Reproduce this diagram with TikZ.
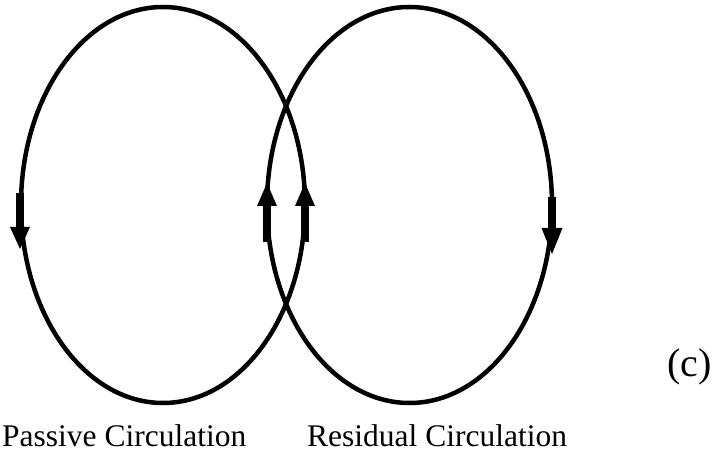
\documentclass[tikz,border=0pt]{standalone}
\usepackage{fontspec}
\setmainfont{Liberation Serif}
\begin{document}
\begin{tikzpicture}[x=1bp,y=-1bp]
\tikzset{
  loopline/.style={line width=4.5bp},
  shaftline/.style={line width=8bp},
  headfill/.style={fill=black},
  lbl/.style={inner sep=0pt, text depth=0pt, anchor=base west, font=\fontsize{31.5bp}{36bp}\selectfont},
  panel/.style={inner sep=0pt, anchor=base west, font=\fontsize{40bp}{44bp}\selectfont}
}
\useasboundingbox (0,0) rectangle (715,454);
% loops
\draw[loopline] (163,205) ellipse [x radius=142, y radius=198];
\draw[loopline] (409.5,205) ellipse [x radius=142.5, y radius=198];
% left arrow (down)
\draw[shaftline] (20,193) -- (20,230);
\fill[headfill] (10,227) -- (30,227) -- (20,249) -- cycle;
% right arrow (down)
\draw[shaftline] (552,197) -- (552,231);
\fill[headfill] (541.5,228) -- (562.5,228) -- (552,254) -- cycle;
% middle arrows (up)
\draw[shaftline] (267,242) -- (267,203);
\fill[headfill] (257,206) -- (277,206) -- (267,183) -- cycle;
\draw[shaftline] (305,242) -- (305,203);
\fill[headfill] (295,206) -- (315,206) -- (305,183) -- cycle;
% labels
\node[lbl] (passive) at (2,446) {Passive Circulation};
\node[lbl] (residual) at (307,446) {Residual Circulation};
\node[panel] (c) at (667,376) {(c)};
\end{tikzpicture}
\end{document}
